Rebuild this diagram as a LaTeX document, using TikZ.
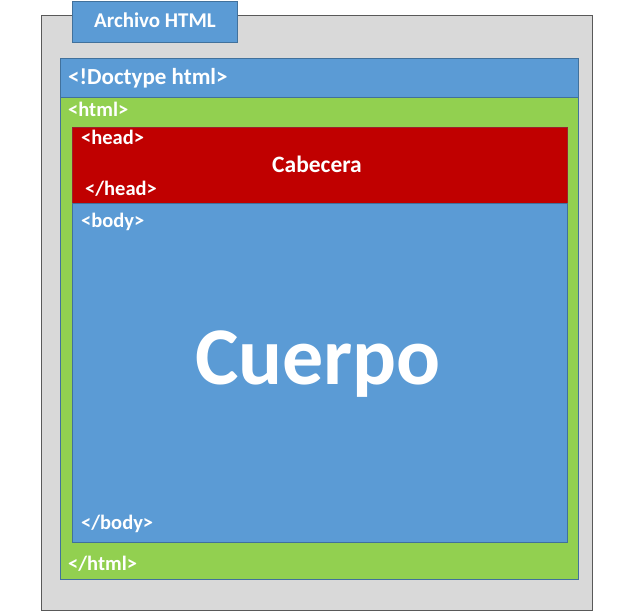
\documentclass[tikz,border=0pt]{standalone}
\usepackage{fontspec}
\setmainfont{Carlito}
\definecolor{gris}{HTML}{D9D9D9}
\definecolor{azul}{HTML}{5B9BD5}
\definecolor{verde}{HTML}{92D050}
\definecolor{rojo}{HTML}{C00000}
\definecolor{borde}{HTML}{41719C}
\tikzset{bx/.style = {rectangle, draw=borde, line width=0.8pt, inner sep=0pt, anchor=north west},
           tx/.style = {text=white, inner sep=0pt, anchor=base west, font=\bfseries\fontsize{20.5}{24}\selectfont}}

\begin{document}
\begin{tikzpicture}[x=1pt, y=-1pt]
    \useasboundingbox (0,0) rectangle (640,615);
    \node[bx, fill=gris, draw=black!65, minimum width=551pt, minimum height=595pt] (archivo) at (41,15) {};
    \node[bx, fill=azul, minimum width=165pt, minimum height=41pt] (titulo) at (72,1) {};
    \node[bx, fill=azul, minimum width=518pt, minimum height=39pt] (doctype) at (60,58) {};
    \node[bx, fill=verde, minimum width=518pt, minimum height=482pt] (html) at (60,97) {};
    \node[bx, fill=rojo, draw=rojo!70!borde, minimum width=495pt, minimum height=76pt] (head) at (72,127) {};
    \node[bx, fill=azul, minimum width=495pt, minimum height=339pt] (body) at (72,203) {};
    \node[tx, anchor=base, font=\bfseries\fontsize{21}{25}\selectfont] (ttitulo) at (155,28) {Archivo HTML};
    \node[tx, font=\bfseries\fontsize{23}{27}\selectfont] (tdoctype) at (68,85) {<!Doctype html>};
    \node[tx] (thtml) at (68,117) {<html>};
    \node[tx] (thead) at (81,145) {<head>};
    \node[tx, anchor=base, font=\bfseries\fontsize{23.5}{27}\selectfont] (tcabecera) at (317,172) {Cabecera};
    \node[tx] (tfinhead) at (85,196) {</head>};
    \node[tx] (tbody) at (81,227) {<body>};
    \node[tx, anchor=base, font=\bfseries\fontsize{82}{90}\selectfont] (tcuerpo) at (318,384) {Cuerpo};
    \node[tx] (tfinbody) at (81,529) {</body>};
    \node[tx] (tfinhtml) at (68,570) {</html>};
\end{tikzpicture}
\end{document}
